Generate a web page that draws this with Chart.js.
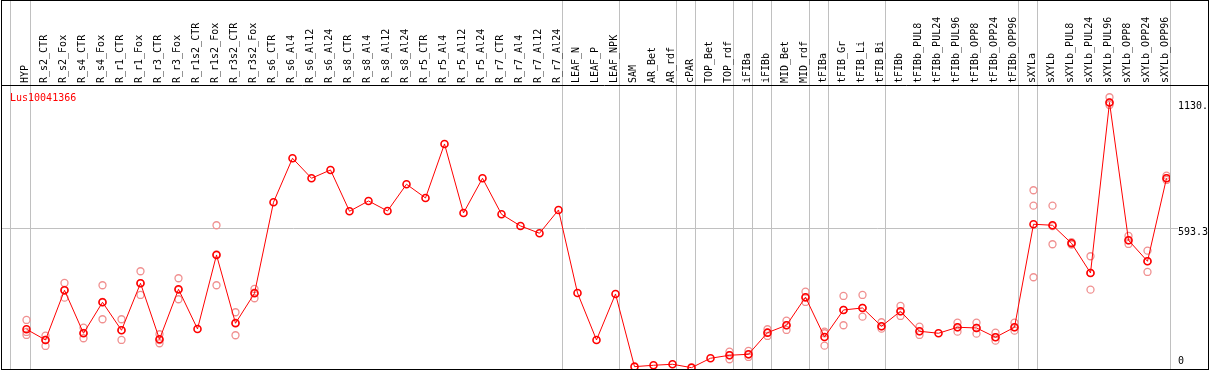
<!DOCTYPE html>
<html lang="en">
<head>
    <meta charset="UTF-8">
    <title>Lus10041366</title>
    <script src="https://cdn.jsdelivr.net/npm/chart.js"></script>
    <style>
        html, body { margin: 0; padding: 0; background: #fff; }
        .chart-box { position: relative; width: 1209px; height: 370px; }
    </style>
</head>
<body>
    <div class="chart-box"><canvas id="exprChart"></canvas></div>

    <script>
        const geneId = 'Lus10041366';

        const samples = [
            'HYP', 'R_s2_CTR', 'R_s2_Fox', 'R_s4_CTR', 'R_s4_Fox', 'R_r1_CTR', 'R_r1_Fox', 'R_r3_CTR', 'R_r3_Fox',
            'R_r1s2_CTR', 'R_r1s2_Fox', 'R_r3s2_CTR', 'R_r3s2_Fox',
            'R_s6_CTR', 'R_s6_Al4', 'R_s6_Al12', 'R_s6_Al24', 'R_s8_CTR', 'R_s8_Al4', 'R_s8_Al12', 'R_s8_Al24',
            'R_r5_CTR', 'R_r5_Al4', 'R_r5_Al12', 'R_r5_Al24', 'R_r7_CTR', 'R_r7_Al4', 'R_r7_Al12', 'R_r7_Al24',
            'LEAF_N', 'LEAF_P', 'LEAF_NPK',
            'SAM', 'AR_Bet', 'AR_rdf', 'cPAR', 'TOP_Bet', 'TOP_rdf', 'iFIBa', 'iFIBb', 'MID_Bet', 'MID_rdf',
            'tFIBa', 'tFIB_Gr', 'tFIB_Li', 'tFIB_Bi', 'tFIBb', 'tFIBb_PUL8', 'tFIBb_PUL24', 'tFIBb_PUL96',
            'tFIBb_OPP8', 'tFIBb_OPP24', 'tFIBb_OPP96',
            'sXYLa', 'sXYLb', 'sXYLb_PUL8', 'sXYLb_PUL24', 'sXYLb_PUL96', 'sXYLb_OPP8', 'sXYLb_OPP24', 'sXYLb_OPP96'
        ];

        // mean expression per sample
        const means = [
            163.7, 118.1, 330.0, 146.7, 278.8, 159.5, 359.8, 121.1, 334.3, 165.0, 480.5, 189.3, 317.2,
            705.2, 892.8, 807.5, 842.9, 666.8, 710.7, 668.1, 781.9, 723.5, 953.7, 659.6, 807.5, 654.0, 604.1, 573.0, 672.4,
            318.5, 118.1, 314.2,
            4.3, 10.2, 14.5, 0, 40.1, 52.9, 57.1, 149.2, 180.8, 300.2,
            130.9, 246.0, 254.5, 176.5, 240.5, 155.2, 146.7, 172.2, 169.3, 129.6, 172.2,
            611.4, 607.1, 530.4, 403.8, 1130.5, 543.2, 453.6, 807.5
        ];

        // single replicates (null where none shown)
        const rep1 = [
            203.4, 136.4, 361.1, 170.5, 351.3, 206.4, 411.0, 142.4, 381.2, null, 607.1, 236.2, 335.5,
            null, null, null, null, null, null, null, null, null, null, null, null, null, null, null, null,
            null, null, null,
            null, null, null, null, null, 68.2, 71.2, 163.7, 200.4, 324.0,
            153.5, 305.7, 310.0, 193.6, 263.1, 174.8, null, 191.9, 191.9, 149.2, 191.9,
            756.3, 690.7, 535.0, 475.0, 1152.9, 561.5, 498.8, 818.6
        ];
        const rep2 = [
            139.4, 92.5, 298.4, 125.3, 206.4, 118.1, 310.0, 104.0, 291.6, null, 351.3, 138.1, 295.9,
            null, null, null, null, null, null, null, null, null, null, null, null, null, null, null, null,
            null, null, null,
            null, null, null, null, null, 35.8, 45.6, 135.2, 160.7, 280.1,
            93.8, 180.8, 217.4, 166.3, 220.4, 139.4, null, 153.5, 145.0, 115.1, 157.7,
            690.7, 526.1, 525.0, 332.6, 1120.0, 527.4, 408.0, 800.3
        ];
        const rep3 = [
            152.2, 118.0, 331.0, 148.0, 280.0, 160.0, 360.0, 118.0, 332.0, null, 483.0, 192.0, 320.0,
            null, null, null, null, null, null, null, null, null, null, null, null, null, null, null, null,
            null, null, null,
            null, null, null, null, null, 53.0, 56.0, 149.0, 181.0, 298.0,
            146.7, 246.0, 255.0, 176.0, 240.0, 155.0, null, 172.0, 169.0, 130.0, 172.0,
            385.4, 604.0, 531.0, 404.0, 1131.0, 543.0, 454.0, 808.0
        ];

        const yTicks = [0, 593.3, 1130.5];
        const midTick = 593.3;

        // grey separators are drawn just after these samples
        const groupEnds = ['HYP', 'R_r7_Al24', 'LEAF_NPK', 'AR_rdf', 'cPAR', 'TOP_rdf', 'iFIBa', 'iFIBb',
            'MID_rdf', 'tFIBa', 'tFIB_Bi', 'tFIBb_OPP96', 'sXYLa', 'sXYLb_OPP96'];

        const monoFont = { family: "'DejaVu Sans Mono', monospace", size: 10, lineHeight: 1 };
        const breakShift = 4 / 19;
        const leadLine = -0.84;

        const meanPoints = means.map((v, i) => ({ x: i, y: v }));
        const repPoints = [];
        [rep1, rep2, rep3].forEach(reps => {
            reps.forEach((v, i) => { if (v !== null) repPoints.push({ x: i, y: v }); });
        });

        const framePlugin = {
            id: 'frame',
            beforeDraw(chart) {
                const { ctx, chartArea, scales: { x } } = chart;
                const cols = [leadLine].concat(groupEnds.map(n => samples.indexOf(n) + breakShift));
                ctx.save();
                ctx.strokeStyle = '#c0c0c0';
                ctx.lineWidth = 1;
                cols.forEach(v => {
                    const px = Math.round(x.getPixelForValue(v) - 0.5) + 0.5;
                    ctx.beginPath();
                    ctx.moveTo(px, 0);
                    ctx.lineTo(px, chartArea.bottom);
                    ctx.stroke();
                });
                ctx.restore();
            },
            afterDraw(chart) {
                const { ctx, chartArea, width, height } = chart;
                ctx.save();
                ctx.strokeStyle = '#000';
                ctx.lineWidth = 1;
                ctx.strokeRect(1.5, 0.5, width - 2, height - 1);
                ctx.beginPath();
                ctx.moveTo(1, chartArea.top + 0.5);
                ctx.lineTo(width - 1, chartArea.top + 0.5);
                ctx.stroke();
                ctx.fillStyle = '#ff0000';
                ctx.font = "10px 'DejaVu Sans Mono', monospace";
                ctx.textBaseline = 'alphabetic';
                ctx.fillText(geneId, 10, chartArea.top + 16);
                ctx.restore();
            }
        };

        new Chart(document.getElementById('exprChart').getContext('2d'), {
            type: 'line',
            data: {
                datasets: [{
                    label: 'mean',
                    data: meanPoints,
                    borderColor: '#ff0000',
                    borderWidth: 1,
                    pointRadius: 3.5,
                    pointBorderWidth: 1.6,
                    pointBorderColor: '#ff0000',
                    pointBackgroundColor: 'transparent',
                    tension: 0
                }, {
                    label: 'replicates',
                    data: repPoints,
                    showLine: false,
                    pointRadius: 3.5,
                    pointBorderWidth: 1.3,
                    pointBorderColor: '#f09090',
                    pointBackgroundColor: 'transparent'
                }]
            },
            options: {
                responsive: true,
                maintainAspectRatio: false,
                animation: false,
                layout: { autoPadding: false, padding: { left: 1, right: 1, top: 1, bottom: 1 } },
                plugins: {
                    legend: { display: false },
                    tooltip: { enabled: false }
                },
                scales: {
                    x: {
                        type: 'linear',
                        position: 'top',
                        min: -25.5 / 19,
                        max: 60 + 3.5 / 19,
                        bounds: 'data',
                        grid: { display: false, drawTicks: false },
                        border: { display: false },
                        afterBuildTicks: s => { s.ticks = samples.map((_, i) => ({ value: i })); },
                        afterFit: s => { s.height = 84; s.paddingLeft = 0; s.paddingRight = 0; },
                        ticks: {
                            autoSkip: false,
                            minRotation: 90,
                            maxRotation: 90,
                            padding: 2,
                            labelOffset: 9,
                            color: '#000',
                            font: monoFont,
                            callback: v => samples[v]
                        }
                    },
                    y: {
                        type: 'linear',
                        position: 'right',
                        min: -5.7,
                        max: 1205.1,
                        afterBuildTicks: s => { s.ticks = yTicks.map(v => ({ value: v })); },
                        afterFit: s => { s.width = 38; s.paddingTop = 0; s.paddingBottom = 0; },
                        grid: {
                            color: c => (c.tick && c.tick.value === midTick) ? '#c0c0c0' : 'transparent',
                            tickLength: 8,
                            drawTicks: true
                        },
                        border: { display: false },
                        ticks: {
                            padding: 0,
                            labelOffset: 4,
                            color: '#000',
                            font: monoFont,
                            callback: v => v === 0 ? ['0', '', ''] : String(v)
                        }
                    }
                }
            },
            plugins: [framePlugin]
        });
    </script>
</body>
</html>
